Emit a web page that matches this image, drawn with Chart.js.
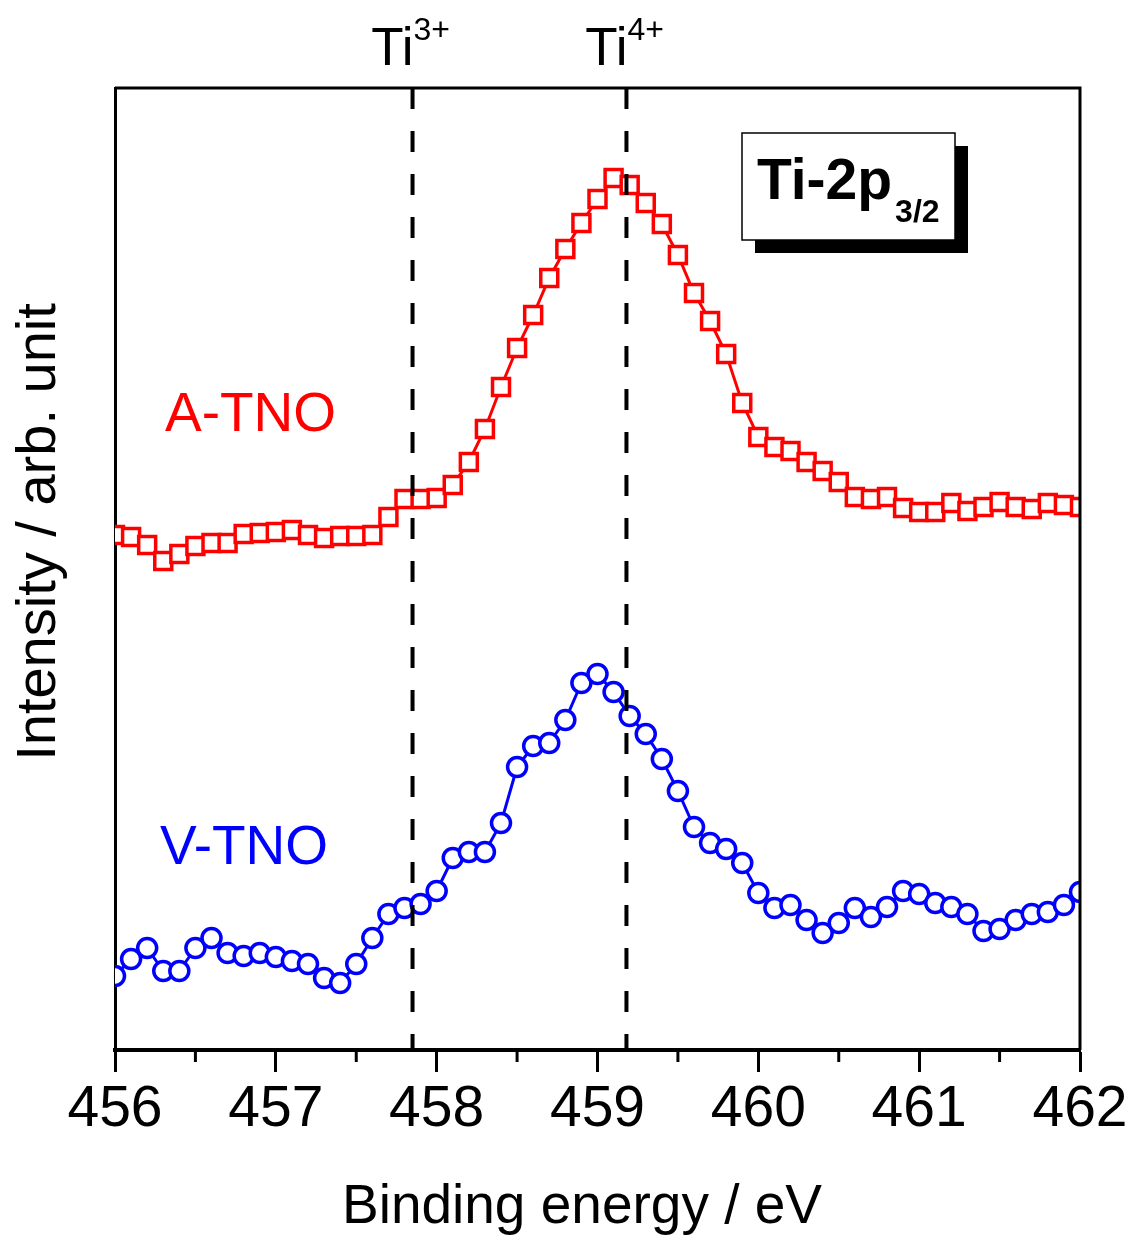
<!DOCTYPE html>
<html>
<head>
<meta charset="utf-8">
<script src="https://cdn.jsdelivr.net/npm/chart.js@4.4.0/dist/chart.umd.min.js"></script>
<style>
	body { margin: 0; background: #fff; }
	#wrap { width: 1139px; height: 1238px; }
</style>
</head>
<body>
<div id="wrap"><canvas id="myChart"></canvas></div>
<script>
// binding energies (eV), one point every 0.1 eV
var energies = [
	456.0, 456.1, 456.2, 456.3, 456.4, 456.5, 456.6, 456.7, 456.8, 456.9,
	457.0, 457.1, 457.2, 457.3, 457.4, 457.5, 457.6, 457.7, 457.8, 457.9,
	458.0, 458.1, 458.2, 458.3, 458.4, 458.5, 458.6, 458.7, 458.8, 458.9,
	459.0, 459.1, 459.2, 459.3, 459.4, 459.5, 459.6, 459.7, 459.8, 459.9,
	460.0, 460.1, 460.2, 460.3, 460.4, 460.5, 460.6, 460.7, 460.8, 460.9,
	461.0, 461.1, 461.2, 461.3, 461.4, 461.5, 461.6, 461.7, 461.8, 461.9,
	462.0
];

// intensities, arb. unit
var aTno = [
	515, 513, 505, 489, 496, 504, 507, 507, 516, 517,
	518, 520, 515, 512, 514, 514, 515, 533, 551, 551,
	552, 565, 588, 621, 663, 702, 735, 772, 801, 827,
	851, 872, 865, 847, 826, 795, 757, 729, 696, 647,
	613, 603, 599, 588, 579, 568, 553, 551, 553, 542,
	538, 538, 547, 539, 543, 548, 543, 541, 547, 545,
	543
];
var vTno = [
	74, 91, 102, 79, 79, 102, 112, 97, 94, 97,
	93, 89, 86, 72, 67, 86, 112, 136, 142, 146,
	159, 192, 198, 198, 227, 283, 304, 307, 330, 367,
	376, 358, 334, 316, 291, 259, 223, 207, 201, 187,
	157, 142, 145, 130, 117, 127, 142, 133, 143, 159,
	156, 147, 143, 136, 119, 121, 130, 136, 138, 145,
	158
];

var xMin = 456, xMax = 462;
var minorTicks = [456.5, 457.5, 458.5, 459.5, 460.5, 461.5];

// reference lines for the two oxidation states
var stateEnergies = [457.85, 459.18];
var stateCharges = ['3+', '4+'];

var FONT = '"Liberation Sans", Arial, sans-serif';

//build {x,y} points
function toPoints(vals) {
	var pts = [];
	for (var i = 0; i < energies.length; i++) {
		pts.push({ x: energies[i], y: vals[i] });
	}
	return pts;
}

// extras: frame, minor ticks, dashed lines, labels, box
var extras = {
	id: 'extras',
	afterDatasetsDraw: function (chart) {
		var ctx = chart.ctx, a = chart.chartArea, x = chart.scales.x;
		ctx.save();
		ctx.strokeStyle = '#000';
		ctx.lineWidth = 4;
		ctx.setLineDash([21, 22]);
		for (var i = 0; i < stateEnergies.length; i++) {
			var px = x.getPixelForValue(stateEnergies[i]);
			ctx.beginPath();
			ctx.moveTo(px, a.top);
			ctx.lineTo(px, a.bottom);
			ctx.stroke();
		}
		ctx.restore();
	},
	afterDraw: function (chart) {
		var ctx = chart.ctx, a = chart.chartArea, x = chart.scales.x;
		ctx.save();

		// top + right frame
		ctx.strokeStyle = '#000';
		ctx.lineWidth = 3;
		ctx.beginPath();
		ctx.moveTo(a.left, a.top);
		ctx.lineTo(a.right, a.top);
		ctx.lineTo(a.right, a.bottom);
		ctx.stroke();

		// minor ticks
		ctx.lineWidth = 3;
		for (var i = 0; i < minorTicks.length; i++) {
			var mx = x.getPixelForValue(minorTicks[i]);
			ctx.beginPath();
			ctx.moveTo(mx, a.bottom);
			ctx.lineTo(mx, a.bottom + 12);
			ctx.stroke();
		}

		// Ti labels above the dashed lines
		ctx.fillStyle = '#000';
		ctx.textBaseline = 'alphabetic';
		for (var j = 0; j < stateEnergies.length; j++) {
			var lx = x.getPixelForValue(stateEnergies[j]);
			ctx.font = '53px ' + FONT;
			ctx.textAlign = 'right';
			ctx.fillText('Ti', lx + 1, a.top - 23);
			ctx.font = '32px ' + FONT;
			ctx.textAlign = 'left';
			ctx.fillText(stateCharges[j], lx + 1, a.top - 48);
		}

		// axis titles
		ctx.font = '55px ' + FONT;
		ctx.textAlign = 'center';
		ctx.fillText('Binding energy / eV', 582, 1223);

		ctx.save();
		ctx.translate(55, 532);
		ctx.rotate(-Math.PI / 2);
		ctx.font = '56px ' + FONT;
		ctx.fillText('Intensity / arb. unit', 0, 0);
		ctx.restore();

		// sample labels
		ctx.textAlign = 'left';
		ctx.font = '55px ' + FONT;
		ctx.fillStyle = '#ff0000';
		ctx.fillText('A-TNO', a.left + 50, 431);
		ctx.fillStyle = '#0000ff';
		ctx.fillText('V-TNO', a.left + 45, 864);

		// Ti-2p3/2 box with shadow
		var bx = 742, by = 133, bw = 213, bh = 107;
		ctx.fillStyle = '#000';
		ctx.fillRect(bx + 13, by + 13, bw, bh);
		ctx.fillStyle = '#fff';
		ctx.fillRect(bx, by, bw, bh);
		ctx.lineWidth = 1.5;
		ctx.strokeStyle = '#000';
		ctx.strokeRect(bx, by, bw, bh);
		ctx.fillStyle = '#000';
		ctx.font = 'bold 57px ' + FONT;
		ctx.fillText('Ti-2p', bx + 15, by + 66);
		var w = ctx.measureText('Ti-2p').width;
		ctx.font = 'bold 32px ' + FONT;
		ctx.fillText('3/2', bx + 15 + w + 3, by + 89);

		ctx.restore();
	}
};

var $chart = document.getElementById('myChart');

var myLineChart = new Chart($chart, {
	type: 'line',
	data: {
		datasets: [{
			label: 'A-TNO',
			data: toPoints(aTno),
			borderColor: '#ff0000',
			borderWidth: 3,
			pointStyle: 'rect',
			pointRadius: 12,
			pointBorderWidth: 3.5,
			pointBorderColor: '#ff0000',
			pointBackgroundColor: '#fff',
			tension: 0
		}, {
			label: 'V-TNO',
			data: toPoints(vTno),
			borderColor: '#0000ff',
			borderWidth: 3,
			pointStyle: 'circle',
			pointRadius: 9.5,
			pointBorderWidth: 3.5,
			pointBorderColor: '#0000ff',
			pointBackgroundColor: '#fff',
			tension: 0
		}]
	},
	options: {
		responsive: true,
		maintainAspectRatio: false,
		animation: false,
		layout: { padding: { top: 88, right: 59, left: 0, bottom: 0 } },
		plugins: {
			legend: { display: false },
			tooltip: { enabled: false }
		},
		scales: {
			x: {
				type: 'linear',
				min: xMin,
				max: xMax,
				afterFit: function (s) { s.height = 188; },
				ticks: {
					stepSize: 1,
					color: '#000',
					padding: 4,
					font: { family: FONT, size: 57 },
					maxRotation: 0
				},
				grid: {
					drawOnChartArea: false,
					tickLength: 22,
					tickWidth: 3,
					tickColor: '#000'
				},
				border: { display: true, color: '#000', width: 4 }
			},
			y: {
				min: 0,
				max: 962,
				afterFit: function (s) { s.width = 115; },
				ticks: { display: false },
				grid: { display: false },
				border: { display: true, color: '#000', width: 3 }
			}
		}
	},
	plugins: [extras]
});
</script>
</body>
</html>
